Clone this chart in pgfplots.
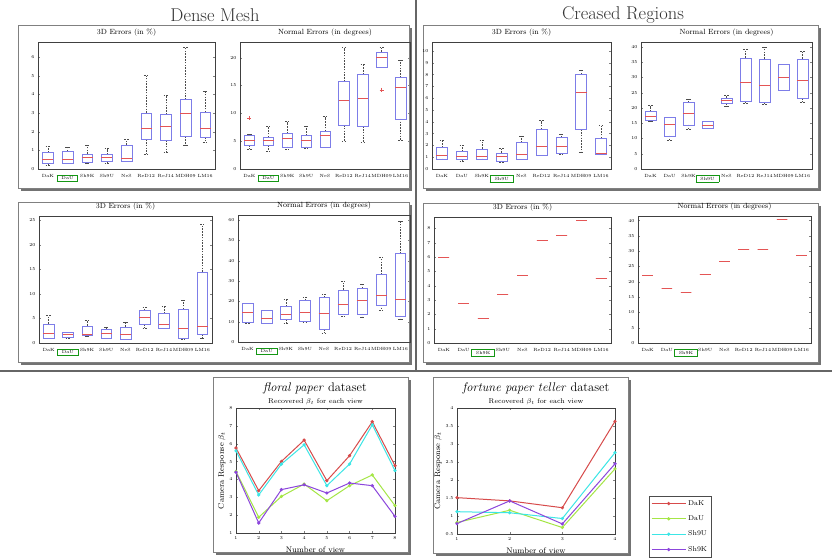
\documentclass[border=0pt]{standalone}
\usepackage{fix-cm}
\usepackage{fontspec}
\usepackage{pgfplots}
\pgfplotsset{compat=1.18}
\usepgfplotslibrary{statistics}
\definecolor{boxblue}{RGB}{125,125,232}
\definecolor{medred}{RGB}{228,85,85}
\definecolor{hlg}{RGB}{20,150,20}
\definecolor{cR}{RGB}{215,75,75}
\definecolor{cG}{RGB}{165,230,70}
\definecolor{cC}{RGB}{60,230,230}
\definecolor{cP}{RGB}{140,70,220}
\setlength\fboxsep{1.4pt}
\setlength\fboxrule{0.9pt}
\newcommand{\hl}[1]{\fcolorbox{hlg}{white}{\hspace{2.5pt}#1\hspace{2.5pt}}}
\pgfplotsset{
 bxs/.style={solid, draw=boxblue, line width=0.45pt, mark=none,
   boxplot/draw direction=y,
   boxplot/box extend=0.55, boxplot/whisker extend=0.22,
   boxplot/every whisker/.style={draw=black!70, dash pattern=on 1.6pt off 1.2pt},
   boxplot/every median/.style={draw=medred, line width=0.6pt, solid}},
 bp/.style={scale only axis, anchor=north west, xmin=0.5, xmax=9.5, xtick={1,...,9}, ymin=0,
   tick label style={font=\fontsize{4.5}{5}\selectfont},
   /pgf/number format/assume math mode=true,
   major x tick style={draw=none}, tick align=inside, major tick length=1.8pt,
   axis line style={black!75, line width=0.5pt},
   every axis title shift=0pt,
   title style={font=\fontsize{7.5}{8}\selectfont, inner sep=0pt, anchor=south, at={(0.5,1)}, yshift=5pt},
   xticklabel style={yshift=-2pt}},
 lc/.style={scale only axis, anchor=north west,
   tick label style={font=\fontsize{4.5}{5}\selectfont},
   /pgf/number format/assume math mode=true,
   tick align=inside, major tick length=1.8pt,
   axis line style={black!75, line width=0.5pt},
   label style={font=\fontsize{8}{9}\selectfont},
   every axis title shift=0pt,
   title style={font=\fontsize{7}{8}\selectfont, inner sep=0pt, anchor=south, at={(0.5,1)}, yshift=3pt},
   ylabel style={yshift=-3pt},
   every axis plot/.append style={line width=1pt, mark=*, mark size=1.1pt}}
}
\newcommand\bx[6]{\addplot[bxs, boxplot prepared={draw position=#1, lower whisker=#2, lower quartile=#3, median=#4, upper quartile=#5, upper whisker=#6}] coordinates {};}
\newcommand\bm[2]{\addplot[bxs, draw=medred, line width=0.6pt, boxplot prepared={draw position=#1, lower whisker=#2, lower quartile=#2, median=#2, upper quartile=#2, upper whisker=#2}] coordinates {};}
\newcommand\panel[4]{\fill[black!55] (#1pt+3pt,-#2pt-3pt) rectangle (#3pt+3pt,-#4pt-3pt); \draw[black!50, fill=white, line width=0.5pt] (#1pt,-#2pt) rectangle (#3pt,-#4pt);}
\begin{document}
\begin{tikzpicture}
\fill[white] (0,0) rectangle (832pt,-558pt);
\useasboundingbox (0,0) rectangle (832pt,-558pt);
% separators
\draw[black!60, line width=1.5pt] (416pt,0pt) -- (416pt,-370pt);
\draw[black!60, line width=1.5pt] (0pt,-371pt) -- (832pt,-371pt);
% headings
\node[font=\fontsize{18.5}{20}\selectfont, text=black!80] at (215pt,-15pt) {Dense Mesh};
\node[font=\fontsize{18.5}{20}\selectfont, text=black!80] at (623pt,-15pt) {Creased Regions};
% panels
\panel{18}{25}{409}{188}
\panel{423}{25}{818}{188}
\panel{18}{202}{409}{362}
\panel{423}{203}{818}{362}
\panel{213}{377}{408}{552}
\panel{433}{377}{628}{553}

% ---------- Dense Mesh, row 1 ----------
\begin{axis}[bp, at={(38pt,-42pt)}, width=177pt, height=127pt, ymax=6.8, ytick={0,...,6},
  xticklabels={DaK,\hl{DaU},Sh9K,Sh9U,NeS,ReD12,ReJ14,MDH09,LM16}, title={3D Errors (in \%)}]
\bx{1}{0.18}{0.29}{0.54}{0.89}{1.21}
\bx{2}{0.29}{0.32}{0.54}{0.95}{1.16}
\bx{3}{0.29}{0.36}{0.62}{0.80}{1.27}
\bx{4}{0.30}{0.39}{0.64}{0.77}{1.09}
\bx{5}{0.43}{0.43}{0.59}{1.29}{1.57}
\bx{6}{0.80}{1.60}{2.20}{3.00}{5.00}
\bx{7}{0.89}{1.54}{2.27}{2.91}{3.96}
\bx{8}{1.27}{1.75}{3.00}{3.71}{6.52}
\bx{9}{1.45}{1.71}{2.16}{3.04}{4.16}
\end{axis}
\begin{axis}[bp, at={(240pt,-42pt)}, width=170pt, height=127pt, ymax=22.8, ytick={0,5,...,20},
  xticklabels={DaK,\hl{DaU},Sh9K,Sh9U,NeS,ReD12,ReJ14,MDH09,LM16}, title={Normal Errors (in degrees)}]
\bx{1}{3.6}{4.2}{5.2}{6.1}{6.2}
\bx{2}{3.2}{4.2}{5.1}{5.7}{7.7}
\bx{3}{3.5}{4.0}{5.5}{6.4}{8.5}
\bx{4}{3.75}{4.0}{5.2}{6.0}{7.7}
\bx{5}{4.0}{4.0}{6.1}{6.8}{9.4}
\bx{6}{4.9}{7.9}{12.4}{15.7}{21.8}
\bx{7}{4.8}{7.7}{12.7}{17.0}{18.9}
\bx{8}{18.3}{18.3}{20.0}{21.0}{21.8}
\bx{9}{5.1}{9.0}{14.6}{16.4}{19.5}
\addplot[only marks, mark=+, mark size=2pt, medred] coordinates {(1,9.1) (8,14.2)};
\end{axis}

% ---------- Creased, row 1 ----------
\begin{axis}[bp, at={(432pt,-42pt)}, width=179pt, height=127pt, ymax=10.76, ytick={0,...,10},
  xticklabels={DaK,DaU,Sh9K,\hl{Sh9U},NeS,ReD12,ReJ14,MDH09,LM16}, title={3D Errors (in \%)}]
\bx{1}{0.79}{0.87}{1.18}{1.83}{2.42}
\bx{2}{0.65}{0.79}{1.07}{1.49}{2.0}
\bx{3}{0.79}{0.87}{1.07}{1.71}{2.42}
\bx{4}{0.59}{0.70}{1.07}{1.35}{1.77}
\bx{5}{0.79}{0.79}{1.26}{2.25}{2.81}
\bx{6}{1.2}{1.2}{1.9}{3.37}{4.1}
\bx{7}{1.29}{1.35}{1.9}{2.7}{2.98}
\bx{8}{1.4}{3.37}{6.54}{8.03}{8.37}
\bx{9}{1.29}{1.29}{1.35}{2.61}{3.68}
\end{axis}
\begin{axis}[bp, at={(641pt,-42pt)}, width=171pt, height=127pt, ymax=41.6, ytick={0,5,...,40},
  xticklabels={DaK,DaU,Sh9K,\hl{Sh9U},NeS,ReD12,ReJ14,MDH09,LM16}, title={Normal Errors (in degrees)}]
\bx{1}{15.5}{16.0}{17.3}{18.9}{20.8}
\bx{2}{9.4}{10.9}{14.8}{17.0}{17.0}
\bx{3}{13.1}{14.5}{18.3}{21.9}{23.0}
\bx{4}{13.2}{13.4}{14.3}{15.6}{15.6}
\bx{5}{20.5}{21.5}{22.5}{23.3}{24.2}
\bx{6}{21.4}{22.2}{28.4}{36.4}{39.1}
\bx{7}{21.1}{21.9}{27.3}{36.1}{40.0}
\bx{8}{25.8}{25.8}{30.1}{34.2}{34.4}
\bx{9}{21.9}{23.1}{29.0}{36.1}{38.6}
\end{axis}

% ---------- Dense Mesh, row 2 ----------
\begin{axis}[bp, at={(39pt,-216pt)}, width=173pt, height=127pt, ymax=25.9, ytick={0,5,...,25},
  xticklabels={DaK,\hl{DaU},Sh9K,Sh9U,NeS,ReD12,ReJ14,MDH09,LM16}, title={3D Errors (in \%)}]
\bx{1}{0.9}{1.0}{1.9}{3.9}{5.6}
\bx{2}{1.0}{1.1}{1.8}{2.3}{2.3}
\bx{3}{1.4}{1.5}{1.8}{3.5}{4.6}
\bx{4}{0.9}{1.0}{1.9}{2.9}{3.3}
\bx{5}{0.7}{0.8}{1.8}{3.3}{4.3}
\bx{6}{3.1}{3.8}{5.3}{6.7}{7.2}
\bx{7}{3.1}{3.1}{3.8}{6.0}{7.5}
\bx{8}{0.8}{1.0}{3.1}{6.9}{8.8}
\bx{9}{0.9}{1.8}{3.4}{14.5}{24.2}
\end{axis}
\begin{axis}[bp, at={(238pt,-215pt)}, width=172pt, height=127pt, ymax=62.5, ytick={0,10,...,60},
  xticklabels={DaK,\hl{DaU},Sh9K,Sh9U,NeS,ReD12,ReJ14,MDH09,LM16}, title={Normal Errors (in degrees)}]
\bx{1}{9.3}{9.8}{14.7}{19.1}{19.1}
\bx{2}{9.0}{9.3}{11.8}{15.5}{15.5}
\bx{3}{9.3}{11.3}{13.7}{17.5}{21.1}
\bx{4}{9.8}{10.1}{14.7}{20.4}{22.1}
\bx{5}{4.4}{6.4}{13.9}{22.1}{23.5}
\bx{6}{12.6}{13.9}{18.6}{25.7}{29.7}
\bx{7}{12.1}{13.9}{20.3}{26.5}{28.6}
\bx{8}{15.8}{18.3}{23.2}{33.3}{41.5}
\bx{9}{11.4}{12.9}{20.8}{43.6}{59.6}
\end{axis}

% ---------- Creased, row 2 ----------
\begin{axis}[bp, at={(434pt,-217pt)}, width=177pt, height=126pt, ymax=8.8, ytick={0,...,8},
  xticklabels={DaK,DaU,\hl{Sh9K},Sh9U,NeS,ReD12,ReJ14,MDH09,LM16}, title={3D Errors (in \%)}]
\bm{1}{6.0}
\bm{2}{2.75}
\bm{3}{1.7}
\bm{4}{3.4}
\bm{5}{4.75}
\bm{6}{7.15}
\bm{7}{7.5}
\bm{8}{8.55}
\bm{9}{4.5}
\end{axis}
\begin{axis}[bp, at={(638pt,-216pt)}, width=173pt, height=127pt, ymax=41.5, ytick={0,5,...,40},
  xticklabels={DaK,DaU,\hl{Sh9K},Sh9U,NeS,ReD12,ReJ14,MDH09,LM16}, title={Normal Errors (in degrees)}]
\bm{1}{22.2}
\bm{2}{18.0}
\bm{3}{16.5}
\bm{4}{22.5}
\bm{5}{26.8}
\bm{6}{30.6}
\bm{7}{30.6}
\bm{8}{40.3}
\bm{9}{28.5}
\end{axis}

% ---------- floral paper ----------
\node[font=\fontsize{12.5}{14}\selectfont] at (315pt,-388pt) {\textit{floral paper} dataset};
\begin{axis}[lc, at={(236pt,-408pt)}, width=159pt, height=125pt, xmin=1, xmax=8, ymin=1, ymax=8,
  xtick={1,...,8}, ytick={1,...,8}, title={Recovered $\beta_t$ for each view},
  xlabel={Number of view}, ylabel={Camera Response $\beta_t$}]
\addplot[cR] coordinates {(1,5.76) (2,3.37) (3,5.01) (4,6.20) (5,3.93) (6,5.33) (7,7.23) (8,4.77)};
\addplot[cG] coordinates {(1,4.45) (2,1.88) (3,3.05) (4,3.74) (5,2.81) (6,3.65) (7,4.25) (8,2.53)};
\addplot[cC] coordinates {(1,5.60) (2,3.13) (3,4.86) (4,5.94) (5,3.65) (6,4.86) (7,7.06) (8,4.49)};
\addplot[cP] coordinates {(1,4.40) (2,1.56) (3,3.43) (4,3.70) (5,3.24) (6,3.80) (7,3.65) (8,1.93)};
\end{axis}

% ---------- fortune paper teller ----------
\node[font=\fontsize{12.5}{14}\selectfont] at (536pt,-388pt) {\textit{fortune paper teller} dataset};
\begin{axis}[lc, at={(457pt,-408pt)}, width=158pt, height=126pt, xmin=1, xmax=4, ymin=0.5, ymax=4,
  xtick={1,...,4}, ytick={0.5,1,...,4}, title={Recovered $\beta_t$ for each view},
  xlabel={Number of view}, ylabel={Camera Response $\beta_t$},
  legend style={at={(1.215,0.30)}, anchor=north west, draw=black!70, fill=white,
    font=\fontsize{7}{8}\selectfont, row sep=5pt, inner sep=2pt},
  legend cell align=left,
  legend image code/.code={\draw[mark repeat=2,mark phase=2,#1] plot coordinates {(0pt,0pt) (17pt,0pt) (34pt,0pt)};}]
\addplot[cR] coordinates {(1,1.51) (2,1.42) (3,1.23) (4,3.63)};
\addplot[cG] coordinates {(1,0.82) (2,1.16) (3,0.68) (4,2.31)};
\addplot[cC] coordinates {(1,1.12) (2,1.09) (3,0.93) (4,2.76)};
\addplot[cP] coordinates {(1,0.79) (2,1.42) (3,0.78) (4,2.45)};
\legend{DaK,DaU,Sh9U,Sh9K}
\end{axis}
\end{tikzpicture}
\end{document}
